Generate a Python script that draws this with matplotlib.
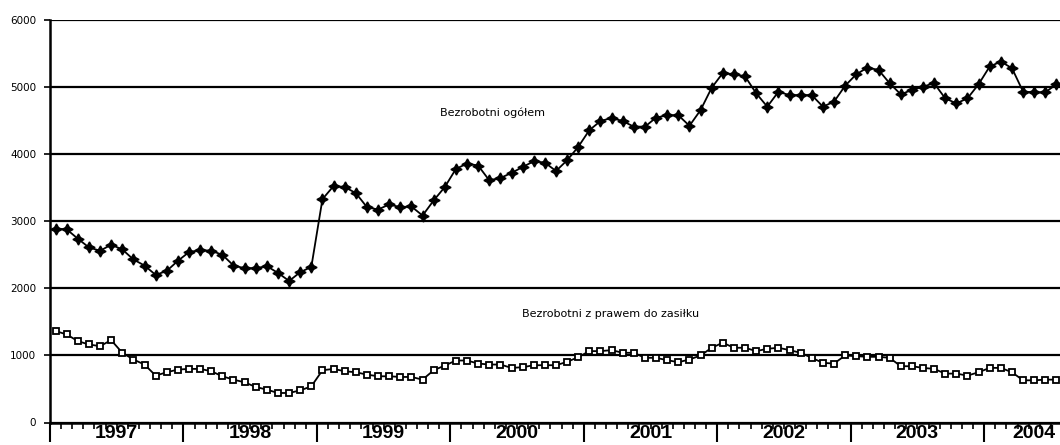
import matplotlib
matplotlib.use("Agg")
import matplotlib.pyplot as plt
import numpy as np

years = ["1997", "1998", "1999", "2000", "2001", "2002", "2003", "2004"]
label_total = "Bezrobotni ogółem"
label_benefit = "Bezrobotni z prawem do zasiłku"

# monthly values, Jan 1997 .. Jul 2004 (thousands)
total = [2890, 2880, 2740, 2610, 2560, 2650, 2580, 2430, 2340, 2200,
         2260, 2410, 2540, 2570, 2560, 2500, 2340, 2300, 2300, 2330,
         2230, 2110, 2240, 2320, 3330, 3525, 3510, 3420, 3210, 3175,
         3250, 3210, 3220, 3085, 3310, 3510, 3780, 3860, 3830, 3610,
         3645, 3720, 3809, 3894, 3874, 3749, 3909, 4109, 4358, 4493,
         4540, 4493, 4410, 4410, 4545, 4580, 4580, 4423, 4657, 4990,
         5210, 5190, 5160, 4907, 4708, 4930, 4880, 4880, 4880, 4708,
         4782, 5020, 5190, 5290, 5256, 5057, 4892, 4957, 5007, 5057,
         4832, 4757, 4832, 5042, 5307, 5380, 5282, 4932, 4922, 4922,
         5042]

benefit = [1363, 1313, 1213, 1163, 1138, 1228, 1039, 939, 864, 699,
           749, 789, 799, 799, 764, 689, 639, 599, 530, 490,
           440, 440, 479, 539, 779, 799, 764, 749, 714, 689,
           689, 679, 679, 639, 779, 849, 924, 924, 879, 864,
           864, 814, 824, 854, 854, 854, 904, 974, 1064, 1064,
           1079, 1039, 1039, 964, 964, 929, 899, 939, 999, 1114,
           1189, 1114, 1114, 1064, 1099, 1114, 1079, 1039, 964, 889,
           879, 999, 989, 979, 979, 964, 839, 839, 814, 799,
           729, 729, 699, 749, 814, 814, 749, 629, 629, 639,
           639]

fig = plt.figure(figsize=(10.6, 4.45), dpi=100)
ax = fig.add_axes([50 / 1060, 22.5 / 445, 1012 / 1060, 402.5 / 445])

x = np.arange(len(total)) + 0.5
ax.plot(x, total, color="black", lw=1.3, marker=(4, 1, 0), ms=8,
        mfc="black", mec="black")
ax.plot(x, benefit, color="black", lw=1.3, marker="s", ms=4.5,
        mfc="white", mec="black", mew=1.3)

ax.set_xlim(0, 91)
ax.set_ylim(0, 6000)

ax.set_yticks(np.arange(0, 6001, 1000))
ax.set_yticklabels([str(v) for v in range(0, 6001, 1000)], fontsize=7.5)
ax.yaxis.grid(True, color="black", lw=1.6)
ax.set_axisbelow(True)

ax.set_xticks(np.arange(0, 91, 12))
ax.set_xticklabels([])
ax.set_xticks(np.arange(0, 92, 1), minor=True)
ax.tick_params(axis="x", which="major", length=14, width=1.5, direction="out")
ax.tick_params(axis="x", which="minor", length=4, width=1.2, direction="out")
ax.tick_params(axis="y", length=4, width=1.2, direction="out", pad=6)

for sp in ["top", "right"]:
    ax.spines[sp].set_visible(False)
for sp in ["left", "bottom"]:
    ax.spines[sp].set_linewidth(1.8)

centers = [6 + 12 * i for i in range(7)] + [88.5]
for yr, c in zip(years, centers):
    ax.text(c, -30, yr, ha="center", va="top", fontsize=14,
            fontweight="bold", family="Liberation Sans", clip_on=False)

ax.text(39.8, 4610, label_total, ha="center", va="center", fontsize=8)
ax.text(50.4, 1615, label_benefit, ha="center", va="center", fontsize=8)

fig.savefig("out.png", dpi=100)
